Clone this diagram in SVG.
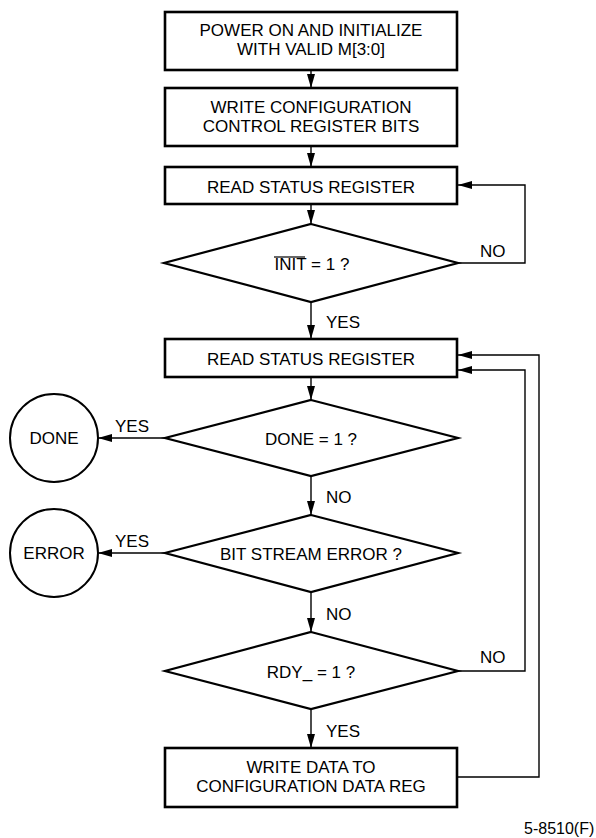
<svg xmlns="http://www.w3.org/2000/svg" width="596" height="838" viewBox="0 0 596 838">
  <style>
    .box { fill: #fff; stroke: #000; stroke-width: 2.6; }
    .dia { fill: #fff; stroke: #000; stroke-width: 2.2; stroke-linejoin: miter; }
    .term { fill: #fff; stroke: #000; stroke-width: 2; }
    .wire { fill: none; stroke: #000; stroke-width: 1.4; }
    text { font-family: "Liberation Sans", Arial, sans-serif; font-size: 17px; fill: #000; }
    .c { text-anchor: middle; }
  </style>
  <defs>
    <marker id="arr" markerUnits="userSpaceOnUse" markerWidth="16" markerHeight="10" refX="14" refY="4" orient="auto">
      <path d="M0,0 L14,4 L0,8 Z" fill="#000"/>
    </marker>
  </defs>

  <g id="connectors">
    <line class="wire" x1="311" y1="70" x2="311" y2="88" marker-end="url(#arr)"/>
    <line class="wire" x1="311" y1="146" x2="311" y2="167" marker-end="url(#arr)"/>
    <line class="wire" x1="311" y1="204" x2="311" y2="224" marker-end="url(#arr)"/>
    <polyline class="wire" points="458,263 525,263 525,185 458,185" marker-end="url(#arr)"/>
    <line class="wire" x1="311" y1="302" x2="311" y2="339" marker-end="url(#arr)"/>
    <line class="wire" x1="311" y1="377" x2="311" y2="400" marker-end="url(#arr)"/>
    <line class="wire" x1="165" y1="438" x2="98" y2="438" marker-end="url(#arr)"/>
    <line class="wire" x1="311" y1="476" x2="311" y2="515" marker-end="url(#arr)"/>
    <line class="wire" x1="165" y1="553" x2="98" y2="553" marker-end="url(#arr)"/>
    <line class="wire" x1="311" y1="592" x2="311" y2="632" marker-end="url(#arr)"/>
    <polyline class="wire" points="458,671 525,671 525,370 458,370" marker-end="url(#arr)"/>
    <line class="wire" x1="311" y1="709" x2="311" y2="748" marker-end="url(#arr)"/>
    <polyline class="wire" points="457,777 539,777 539,355 458,355" marker-end="url(#arr)"/>
    <text x="326" y="328">YES</text>
    <text x="480" y="257">NO</text>
    <text x="115" y="432">YES</text>
    <text x="326" y="503">NO</text>
    <text x="115" y="547">YES</text>
    <text x="326" y="620">NO</text>
    <text x="480" y="663">NO</text>
    <text x="326" y="737">YES</text>
  </g>

  <g id="power-on">
    <rect class="box" x="165" y="12" width="292" height="58"/>
    <text class="c" x="311" y="36">POWER ON AND INITIALIZE</text>
    <text class="c" x="311" y="55">WITH VALID M[3:0]</text>
  </g>

  <g id="write-control">
    <rect class="box" x="165" y="88" width="292" height="58"/>
    <text class="c" x="311" y="113">WRITE CONFIGURATION</text>
    <text class="c" x="311" y="132">CONTROL REGISTER BITS</text>
  </g>

  <g id="read-status-1">
    <rect class="box" x="165" y="167" width="292" height="37"/>
    <text class="c" x="311" y="193">READ STATUS REGISTER</text>
  </g>

  <g id="init-check">
    <polygon class="dia" points="311,224 458,263 311,302 164,263"/>
    <text class="c" x="312" y="270">INIT = 1 ?</text>
    <line x1="274" y1="257" x2="305" y2="257" stroke="#000" stroke-width="1.2"/>
  </g>

  <g id="read-status-2">
    <rect class="box" x="165" y="339" width="292" height="38"/>
    <text class="c" x="311" y="365">READ STATUS REGISTER</text>
  </g>

  <g id="done-check">
    <polygon class="dia" points="311,400 458,438 311,476 165,438"/>
    <text class="c" x="311" y="445">DONE = 1 ?</text>
  </g>

  <g id="done">
    <circle class="term" cx="54" cy="438" r="44"/>
    <text class="c" x="54" y="444">DONE</text>
  </g>

  <g id="error-check">
    <polygon class="dia" points="311,515 458,553 311,592 165,553"/>
    <text class="c" x="311" y="560">BIT STREAM ERROR ?</text>
  </g>

  <g id="error">
    <circle class="term" cx="54" cy="553" r="44"/>
    <text class="c" x="54" y="559">ERROR</text>
  </g>

  <g id="rdy-check">
    <polygon class="dia" points="311,632 458,671 311,709 165,671"/>
    <text class="c" x="311" y="678">RDY_ = 1 ?</text>
  </g>

  <g id="write-data">
    <rect class="box" x="165" y="748" width="292" height="59"/>
    <text class="c" x="311" y="773">WRITE DATA TO</text>
    <text class="c" x="311" y="792">CONFIGURATION DATA REG</text>
  </g>

  <text x="524" y="834" style="font-size:16px">5-8510(F)</text>
</svg>
